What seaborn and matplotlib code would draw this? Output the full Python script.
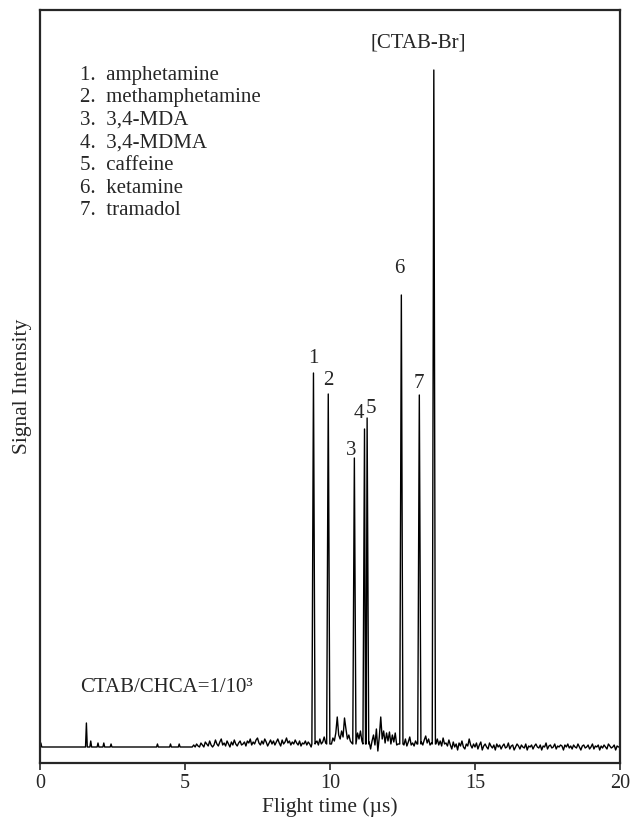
import numpy as np
import pandas as pd
import matplotlib
matplotlib.use("Agg")
import matplotlib.pyplot as plt
import seaborn as sns

# ---- data (intensity in arbitrary units, baseline = 0) ----
peak_labels = ["1", "2", "3", "4", "5", "6", "7", "[CTAB-Br]"]
peak_times = [9.43, 9.94, 10.84, 11.19, 11.28, 12.46, 13.08, 13.58]
peak_heights = [374, 353, 289, 318, 329, 452, 352, 677]

spike_times = [0.03, 1.60, 1.75, 2.00, 2.20, 2.45, 4.05, 4.50, 4.80]
spike_heights = [4, 24, 6, 4, 4, 3, 3, 3, 3]

noise_start, noise_step = 5.0, 0.05
noise_values = [
    0, 0, 0, 0, 0, 0, 2, 0, 3, 1, 0, 4, 2, 0, 5, 3, 1, 6, 2, 0,          # 5
    2, 7, 3, 1, 5, 8, 2, 4, 1, 6, 3, 0, 5, 2, 7, 3, 1, 4, 6, 2,          # 6
    3, 5, 1, 6, 4, 8, 2, 5, 3, 7, 9, 4, 2, 6, 3, 8, 5, 1, 4, 7,          # 7
    3, 6, 2, 5, 8, 4, 1, 7, 3, 5, 9, 4, 6, 2, 5, 3, 7, 4, 2, 6,          # 8
    1, 4, 3, 6, 2, 5, 3, 0, 3, 3, 4, 6, 2, 8, 3, 5, 10, 4, 3, 3,         # 9
    5, 3, 9, 6, 14, 30, 12, 8, 16, 10, 29, 18, 8, 12, 6, 4, 3, 3, 5, 14, # 10
    8, 16, 6, 3, 3, 3, 3, 5, -2, 6, 12, 2, 18, -4, 10, 30, 8, 16, 4, 14, # 11
    6, 15, 3, 12, 5, 14, 2, 3, 3, 3, 3, 2, 8, 1, 5, 10, 2, 4, 1, 6,      # 12
    3, 3, 3, 5, 2, 7, 11, 4, 8, 2, 4, 3, 3, 3, 8, 2, 6, 1, 9, 3,         # 13
    4, 1, 7, 2, -2, 5, 0, 3, -3, 4, 1, 6, 0, -2, 3, 1, 8, 2, -1, 3,      # 14
    0, 4, -2, 2, 5, -3, 1, 3, 0, -2, 4, 1, -1, 2, -3, 3, 0, 2, -2, 1,    # 15
    3, -1, 0, 4, -2, 1, 2, -3, 0, 3, 1, -2, 2, 0, -1, 3, -3, 1, 0, 2,    # 16
    -2, 1, 3, 0, -1, 2, -3, 1, 0, 4, -2, 1, 2, -1, 0, 3, -2, 1, 0, 2,    # 17
    1, -3, 2, 0, 3, -1, 1, -2, 2, 0, -1, 3, 0, -3, 1, 2, -1, 0, 2, -2,   # 18
    0, 3, -2, 1, 0, 2, -3, 1, -1, 2, 0, -2, 3, 1, -1, 0, 2, -3, 1, 0,    # 19
]

legend_lines = ["1.  amphetamine", "2.  methamphetamine", "3.  3,4-MDA",
                "4.  3,4-MDMA", "5.  caffeine", "6.  ketamine", "7.  tramadol"]

# ---- build trace ----
pts = {}
noise_t = np.round(noise_start + noise_step * np.arange(len(noise_values)), 3)
for t, v in zip(noise_t, noise_values):
    pts[float(t)] = float(v)
pts[0.0] = 0.0
pts[20.0] = 0.0
for t, h in zip(spike_times, spike_heights):
    for dt, val in ((-0.03, 0.0), (0.0, h), (0.03, 0.0)):
        tt = round(t + dt, 3)
        if tt >= 0:
            pts[tt] = float(val)
for t, h in zip(peak_times, peak_heights):
    for k in list(pts.keys()):
        if abs(k - t) < 0.065:
            del pts[k]
for t, h in zip(peak_times, peak_heights):
    for dt, val in ((-0.055, 3.0), (0.0, h), (0.055, 3.0)):
        pts[round(t + dt, 3)] = float(val)
ts = sorted(pts)
df = pd.DataFrame({"time": ts, "signal": [pts[t] for t in ts]})

# ---- plot ----
sns.set_style("ticks")
plt.rcParams['font.family'] = ['Liberation Serif', 'DejaVu Serif']
fig = plt.figure(figsize=(6.31, 8.18), dpi=100)
ax = fig.add_axes([40/631, 1-763/818, 580/631, 753/818])
sns.lineplot(data=df, x="time", y="signal", ax=ax, color="black", linewidth=1.0,
             estimator=None, sort=False)
ax.set_xlim(0, 20)
ax.set_ylim(-16, 737)
ax.set_xticks([0, 5, 10, 15, 20])
ax.set_yticks([])
ax.tick_params(axis='x', direction='out', length=5, width=1.2, labelsize=14.5, pad=3)
for s in ax.spines.values():
    s.set_visible(True)
    s.set_linewidth(1.6)
ax.set_xlabel("Flight time (µs)", fontsize=15.5, labelpad=3)
ax.set_ylabel("Signal Intensity", fontsize=15.5, labelpad=6)

label_pos = {"1": (9.41, 389), "2": (9.93, 367), "3": (10.74, 297),
             "4": (10.98, 334), "5": (11.42, 339), "6": (12.40, 479),
             "7": (13.05, 364), "[CTAB-Br]": (13.03, 704)}
for lab in peak_labels:
    x, y = label_pos[lab]
    ax.text(x, y, lab, ha="center", va="center", fontsize=15)

for i, line in enumerate(legend_lines):
    ax.text(1.38, 672 - i * 22.6, line, ha="left", va="center", fontsize=15)

ax.text(1.38, 60, "CTAB/CHCA=1/10³", ha="left", va="center", fontsize=15)

fig.savefig("out.png", dpi=100)
